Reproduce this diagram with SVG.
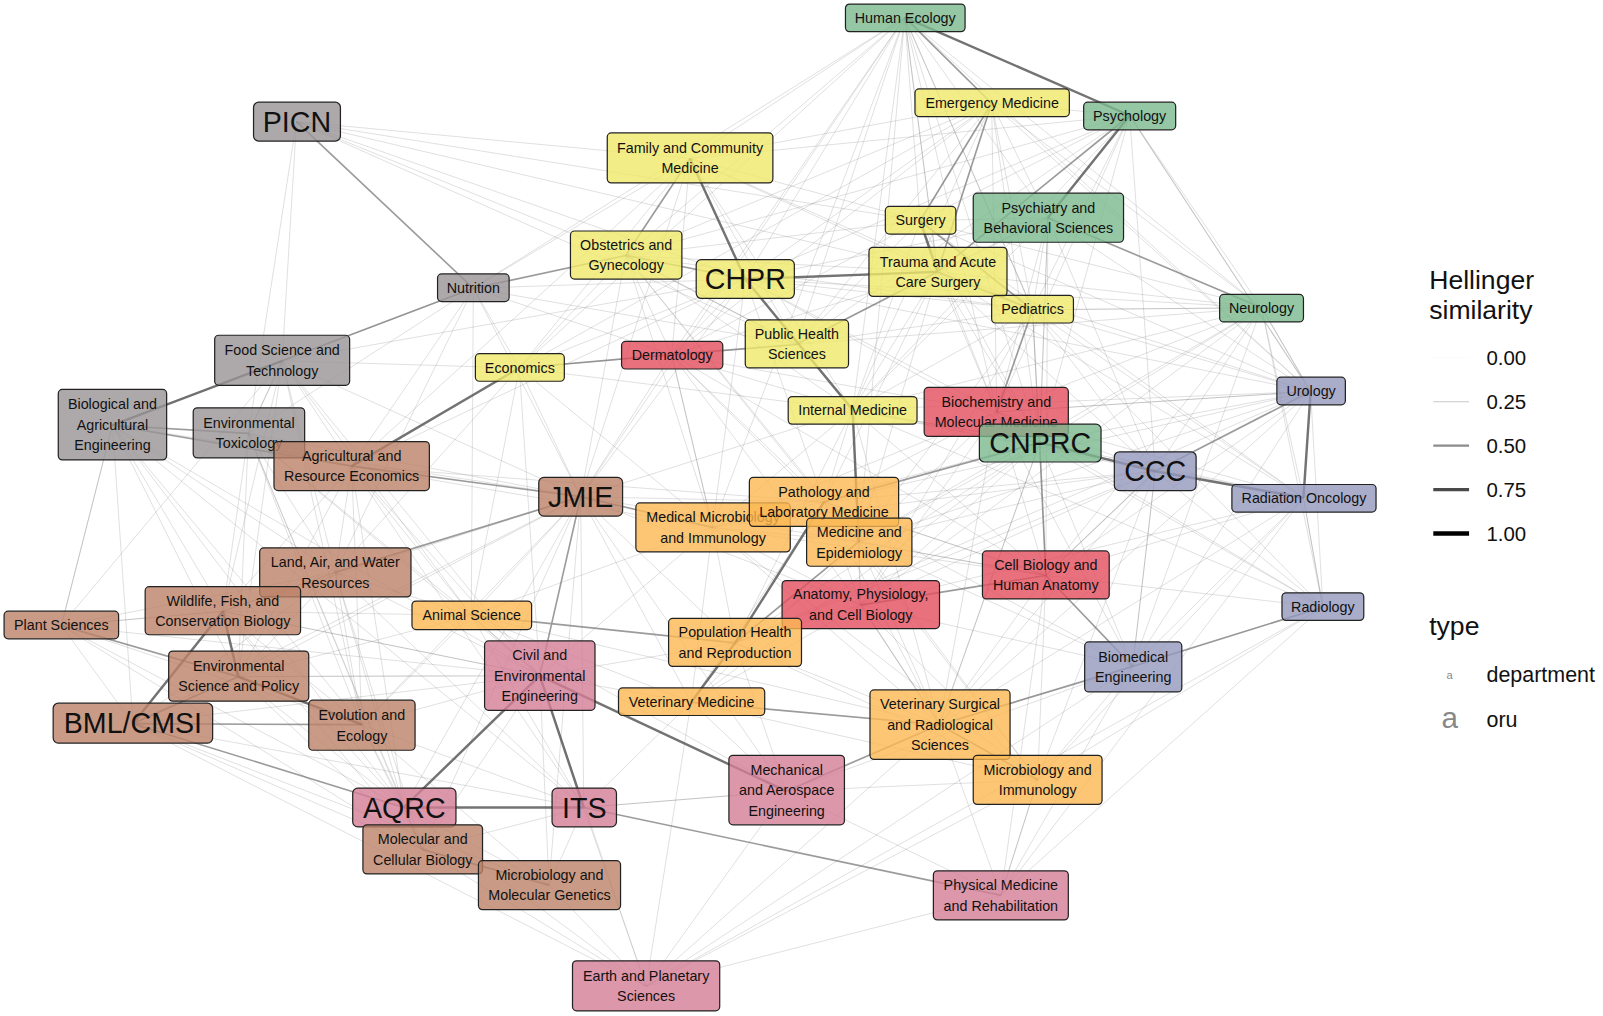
<svg xmlns="http://www.w3.org/2000/svg" width="1603" height="1016" viewBox="0 0 1603 1016">
<style>
.e0{stroke:#8f8f8f;stroke-opacity:.36;stroke-width:.75;fill:none}
.e1{stroke:#888;stroke-opacity:.5;stroke-width:1;fill:none}
.e2{stroke:#707070;stroke-opacity:.7;stroke-width:1.6;fill:none}
.e3{stroke:#505050;stroke-opacity:.8;stroke-width:2.4;fill:none}
.n rect{stroke:#222;stroke-width:1.2;fill-opacity:.8}
.n text{font-family:"Liberation Sans",Arial,Helvetica,sans-serif;font-size:14px;fill:#111;text-anchor:middle}
.n text.o{font-size:28px}
.y rect{fill:#f0e96a}
.g rect{fill:#7ab98f}
.k rect{fill:#989396}
.b rect{fill:#bb8268}
.r rect{fill:#e44d5e}
.or rect{fill:#fbb852}
.p rect{fill:#d57d95}
.l rect{fill:#9598bc}
.lg{font-family:"Liberation Sans",Arial,Helvetica,sans-serif;fill:#111}
</style>
<rect width="1603" height="1016" fill="#fff"/>
<g transform="scale(1.02232 1.02213)">
<g id="connectors">
<path class="e0" d="M885 17L612 250M885 17L675 155M885 17L729 273M885 17L779 337M885 17L834 401M885 17L657 347M885 17L508 360M885 17L900 216M885 17L1025 213M885 17L1234 301M885 17L1282 383M885 17L975 403M885 17L840 530M885 17L463 282M885 17L1017 433M885 17L568 486M885 17L697 516M290 119L675 155M290 119L900 216M290 119L917 266M290 119L779 337M290 119L276 353M290 119L612 250M290 119L729 273M290 119L243 424M970 101L729 273M970 101L612 250M970 101L675 155M970 101L779 337M970 101L834 401M970 101L1010 303M970 101L1025 213M970 101L1234 301M970 101L1282 383M970 101L657 347M970 101L975 403M970 101L1017 433M970 101L508 360M1105 113L1234 301M1105 113L1010 303M1105 113L900 216M1105 113L729 273M1105 113L675 155M1105 113L612 250M1105 113L975 403M1105 113L1017 433M1105 113L834 401M1105 113L779 337M1105 113L1130 461M1105 113L970 101M675 155L779 337M675 155L917 266M675 155L900 216M675 155L657 347M675 155L508 360M675 155L834 401M675 155L1010 303M675 155L463 282M675 155L568 486M675 155L344 456M900 216L612 250M900 216L779 337M900 216L834 401M900 216L975 403M900 216L1017 433M900 216L1234 301M900 216L1282 383M900 216L1275 487M900 216L657 347M900 216L1025 213M1025 213L1010 303M1025 213L917 266M1025 213L834 401M1025 213L975 403M1025 213L729 273M1025 213L1282 383M1025 213L1130 461M1025 213L779 337M1025 213L1023 563M612 250L657 347M612 250L834 401M612 250L917 266M612 250L1010 303M612 250L508 360M612 250L697 516M612 250L568 486M612 250L806 491M612 250L840 530M729 273L657 347M729 273L508 360M729 273L1010 303M729 273L1234 301M729 273L1282 383M729 273L975 403M729 273L806 491M729 273L568 486M729 273L463 282M729 273L344 456M729 273L697 516M729 273L276 353M729 273L1017 433M917 266L834 401M917 266L975 403M917 266L1017 433M917 266L1234 301M917 266L1282 383M917 266L1130 461M917 266L1275 487M917 266L657 347M917 266L840 530M917 266L806 491M1010 303L1282 383M1010 303L834 401M1010 303L1130 461M1010 303L1275 487M1010 303L1294 594M1010 303L779 337M1010 303L1023 563M1010 303L840 530M1010 303L842 592M1234 301L1130 461M1234 301L1275 487M1234 301L1294 594M1234 301L975 403M1234 301L1017 433M1234 301L834 401M1234 301L1023 563M1234 301L1108 652M1234 301L779 337M1234 301L840 530M1234 301L842 592M463 282L508 360M463 282L568 486M463 282L344 456M463 282L657 347M463 282L779 337M463 282L461 602M463 282L243 424M463 282L110 416M463 282L328 560M276 353L344 456M276 353L328 560M276 353L218 598M276 353L233 662M276 353L568 486M276 353L508 360M276 353L60 612M276 353L354 709M276 353L461 602M276 353L528 661M657 347L834 401M657 347L568 486M657 347L806 491M657 347L840 530M657 347L842 592M657 347L975 403M657 347L1023 563M508 360L568 486M508 360L328 560M508 360L779 337M508 360L834 401M508 360L697 516M508 360L461 602M508 360L528 661M110 416L328 560M110 416L218 598M110 416L233 662M110 416L130 708M110 416L354 709M110 416L568 486M110 416L528 661M110 416L395 790M110 416L571 790M243 424L344 456M243 424L328 560M243 424L218 598M243 424L233 662M243 424L568 486M243 424L354 709M243 424L528 661M243 424L395 790M243 424L413 831M243 424L461 602M834 401L806 491M834 401L1130 461M834 401L697 516M834 401L842 592M834 401L1023 563M834 401L719 629M834 401L919 709M834 401L1282 383M834 401L1275 487M834 401L1294 594M834 401L568 486M975 403L1017 433M975 403L1130 461M975 403L1023 563M975 403L842 592M975 403L840 530M975 403L806 491M975 403L697 516M975 403L1275 487M975 403L1108 652M975 403L1294 594M975 403L919 709M1282 383L1294 594M1282 383L1108 652M1282 383L1017 433M1282 383L1023 563M1282 383L806 491M1282 383L840 530M1282 383L719 629M1282 383L919 709M1017 433L842 592M1017 433L840 530M1017 433L697 516M1017 433L719 629M1017 433L1108 652M1017 433L1275 487M1017 433L1294 594M1017 433L676 687M1130 461L1294 594M1130 461L842 592M1130 461L840 530M1130 461L806 491M1130 461L697 516M1130 461L719 629M1130 461L919 709M1130 461L1015 763M1275 487L1108 652M1275 487L1023 563M1275 487L919 709M1275 487L1015 763M1275 487L979 876M1275 487L842 592M344 456L328 560M344 456L218 598M344 456L233 662M344 456L354 709M344 456L528 661M344 456L461 602M344 456L806 491M344 456L697 516M344 456L395 790M344 456L571 790M568 486L571 790M568 486L461 602M568 486L806 491M568 486L840 530M568 486L842 592M568 486L719 629M568 486L676 687M568 486L395 790M568 486L413 831M568 486L537 866M568 486L354 709M568 486L218 598M568 486L233 662M568 486L130 708M568 486L769 774M806 491L697 516M806 491L840 530M806 491L842 592M806 491L676 687M806 491L919 709M806 491L1015 763M806 491L1108 652M697 516L840 530M697 516L842 592M697 516L719 629M697 516L676 687M697 516L919 709M697 516L1023 563M697 516L1015 763M697 516L461 602M697 516L528 661M840 530L842 592M840 530L676 687M840 530L919 709M840 530L1015 763M840 530L1108 652M328 560L233 662M328 560L354 709M328 560L528 661M328 560L461 602M328 560L395 790M328 560L571 790M328 560L60 612M328 560L130 708M328 560L413 831M1023 563L919 709M1023 563L1015 763M1023 563L979 876M1023 563L1294 594M218 598L354 709M218 598L395 790M218 598L461 602M218 598L413 831M60 612L130 708M60 612L354 709M60 612L528 661M60 612L395 790M60 612L413 831M461 602L676 687M461 602L919 709M461 602L233 662M461 602L354 709M461 602L571 790M461 602L769 774M842 592L719 629M842 592L676 687M842 592L1108 652M842 592L1015 763M1294 594L919 709M1294 594L1015 763M1294 594L979 876M1294 594L632 965M719 629L919 709M719 629L528 661M719 629L1015 763M719 629L769 774M528 661L537 866M528 661L413 831M528 661L354 709M528 661L130 708M528 661L632 965M528 661L676 687M1108 652L1015 763M1108 652L979 876M1108 652L769 774M1108 652L632 965M233 662L395 790M233 662L413 831M676 687L769 774M676 687L571 790M676 687L632 965M676 687L1015 763M919 709L979 876M919 709L632 965M130 708L413 831M130 708L537 866M130 708L571 790M130 708L632 965M354 709L395 790M354 709L413 831M354 709L537 866M354 709L571 790M1015 763L769 774M1015 763L632 965M769 774L979 876M769 774L632 965M395 790L537 866M395 790L632 965M571 790L537 866M571 790L632 965M571 790L413 831M413 831L632 965M537 866L632 965M979 876L632 965"/>
<path class="e1" d="M1105 113L1282 383M1234 301L1010 303M1234 301L1282 383M885 17L917 266M885 17L1010 303M612 250L779 337M60 612L218 598M328 560L218 598M395 790L413 831M571 790L769 774M461 602L528 661M842 592L919 709M1130 461L1108 652M1130 461L1023 563M1017 433L919 709M1015 763L979 876M233 662L528 661M218 598L528 661M1275 487L1294 594M840 530L1023 563M806 491L1023 563M657 347L697 516M276 353L243 424M110 416L60 612M1025 213L1017 433M1010 303L1017 433M975 403L1282 383M834 401L1017 433"/>
<path class="e2" d="M290 119L463 282M885 17L970 101M970 101L900 216M970 101L917 266M1105 113L917 266M917 266L1010 303M900 216L1010 303M729 273L612 250M463 282L612 250M463 282L276 353M110 416L243 424M110 416L344 456M657 347L779 337M508 360L657 347M917 266L779 337M344 456L568 486M568 486L328 560M568 486L528 661M568 486L697 516M233 662L130 708M130 708L354 709M60 612L233 662M130 708L395 790M413 831L537 866M571 790L979 876M719 629L840 530M676 687L919 709M461 602L719 629M919 709L1015 763M919 709L1108 652M919 709L769 774M1108 652L1294 594M1108 652L1023 563M842 592L1023 563M1130 461L1282 383M1025 213L1234 301M806 491L1017 433M1010 303L975 403M1017 433L1023 563M675 155L612 250"/>
<path class="e3" d="M675 155L729 273M729 273L834 401M729 273L917 266M900 216L917 266M885 17L1105 113M1105 113L1025 213M276 353L110 416M508 360L344 456M528 661L571 790M395 790L571 790M395 790L528 661M528 661L769 774M218 598L233 662M218 598L130 708M233 662L354 709M676 687L719 629M719 629L806 491M834 401L840 530M1130 461L1275 487M1282 383L1275 487M1130 461L1017 433"/>
</g>
<g id="nodes">
<g id="n-human-ecology" class="n g"><rect x="827" y="4" width="117" height="27" rx="4"/><text x="885.5" y="22.5">Human Ecology</text></g>
<g id="n-emergency-medicine" class="n y"><rect x="895" y="87" width="151" height="27" rx="4"/><text x="970.5" y="105.5">Emergency Medicine</text></g>
<g id="n-psychology" class="n g"><rect x="1060" y="100" width="90" height="27" rx="4"/><text x="1105" y="118.5">Psychology</text></g>
<g id="n-picn" class="n k"><rect x="248" y="100" width="85" height="38" rx="5"/><text class="o" x="290.5" y="129">PICN</text></g>
<g id="n-family-community-medicine" class="n y"><rect x="594" y="130" width="162" height="49" rx="4"/><text x="675" y="149.5">Family and Community<tspan x="675" dy="20">Medicine</tspan></text></g>
<g id="n-surgery" class="n y"><rect x="866" y="202" width="69" height="27" rx="4"/><text x="900.5" y="220.5">Surgery</text></g>
<g id="n-psychiatry" class="n g"><rect x="952" y="189" width="147" height="48" rx="4"/><text x="1025.5" y="208">Psychiatry and<tspan x="1025.5" dy="20">Behavioral Sciences</tspan></text></g>
<g id="n-obstetrics" class="n y"><rect x="558" y="226" width="109" height="47" rx="4"/><text x="612.5" y="244.5">Obstetrics and<tspan x="612.5" dy="20">Gynecology</tspan></text></g>
<g id="n-chpr" class="n y"><rect x="681" y="254" width="96" height="38" rx="5"/><text class="o" x="729" y="283">CHPR</text></g>
<g id="n-trauma" class="n y"><rect x="850" y="242" width="135" height="48" rx="4"/><text x="917.5" y="261">Trauma and Acute<tspan x="917.5" dy="20">Care Surgery</tspan></text></g>
<g id="n-pediatrics" class="n y"><rect x="970" y="289" width="80" height="27" rx="4"/><text x="1010" y="307.5">Pediatrics</text></g>
<g id="n-neurology" class="n g"><rect x="1193" y="288" width="82" height="27" rx="4"/><text x="1234" y="306.5">Neurology</text></g>
<g id="n-nutrition" class="n k"><rect x="428" y="268" width="70" height="27" rx="4"/><text x="463" y="286.5">Nutrition</text></g>
<g id="n-food-science" class="n k"><rect x="210" y="328" width="132" height="49" rx="4"/><text x="276" y="347.5">Food Science and<tspan x="276" dy="20">Technology</tspan></text></g>
<g id="n-public-health" class="n y"><rect x="729" y="313" width="101" height="47" rx="4"/><text x="779.5" y="331.5">Public Health<tspan x="779.5" dy="20">Sciences</tspan></text></g>
<g id="n-dermatology" class="n r"><rect x="608" y="334" width="99" height="27" rx="4"/><text x="657.5" y="352.5">Dermatology</text></g>
<g id="n-economics" class="n y"><rect x="465" y="346" width="87" height="27" rx="4"/><text x="508.5" y="364.5">Economics</text></g>
<g id="n-bio-ag-eng" class="n k"><rect x="57" y="381" width="106" height="69" rx="4"/><text x="110" y="400.5">Biological and<tspan x="110" dy="20">Agricultural</tspan><tspan x="110" dy="20">Engineering</tspan></text></g>
<g id="n-env-tox" class="n k"><rect x="189" y="399" width="109" height="49" rx="4"/><text x="243.5" y="418.5">Environmental<tspan x="243.5" dy="20">Toxicology</tspan></text></g>
<g id="n-internal-medicine" class="n y"><rect x="771" y="388" width="126" height="27" rx="4"/><text x="834" y="406.5">Internal Medicine</text></g>
<g id="n-biochemistry" class="n r"><rect x="904" y="379" width="141" height="48" rx="4"/><text x="974.5" y="398">Biochemistry and<tspan x="974.5" dy="20">Molecular Medicine</tspan></text></g>
<g id="n-urology" class="n l"><rect x="1249" y="369" width="67" height="27" rx="4"/><text x="1282.5" y="387.5">Urology</text></g>
<g id="n-cnprc" class="n g"><rect x="958" y="415" width="119" height="37" rx="5"/><text class="o" x="1017.5" y="443.5">CNPRC</text></g>
<g id="n-ccc" class="n l"><rect x="1090" y="442" width="80" height="38" rx="5"/><text class="o" x="1130" y="471">CCC</text></g>
<g id="n-radiation-oncology" class="n l"><rect x="1205" y="474" width="141" height="27" rx="4"/><text x="1275.5" y="492.5">Radiation Oncology</text></g>
<g id="n-ag-res-econ" class="n b"><rect x="268" y="432" width="152" height="48" rx="4"/><text x="344" y="451">Agricultural and<tspan x="344" dy="20">Resource Economics</tspan></text></g>
<g id="n-jmie" class="n b"><rect x="527" y="467" width="82" height="38" rx="5"/><text class="o" x="568" y="496">JMIE</text></g>
<g id="n-med-micro-immun" class="n or"><rect x="622" y="492" width="151" height="48" rx="4"/><text x="697.5" y="511">Medical Microbiology<tspan x="697.5" dy="20">and Immunology</tspan></text></g>
<g id="n-pathology" class="n or"><rect x="733" y="467" width="146" height="48" rx="4"/><text x="806" y="486">Pathology and<tspan x="806" dy="20">Laboratory Medicine</tspan></text></g>
<g id="n-medicine-epi" class="n or"><rect x="789" y="507" width="103" height="47" rx="4"/><text x="840.5" y="525.5">Medicine and<tspan x="840.5" dy="20">Epidemiology</tspan></text></g>
<g id="n-land-air-water" class="n b"><rect x="254" y="536" width="148" height="48" rx="4"/><text x="328" y="555">Land, Air, and Water<tspan x="328" dy="20">Resources</tspan></text></g>
<g id="n-cell-bio-anatomy" class="n r"><rect x="961" y="539" width="124" height="47" rx="4"/><text x="1023" y="557.5">Cell Biology and<tspan x="1023" dy="20">Human Anatomy</tspan></text></g>
<g id="n-wildlife" class="n b"><rect x="142" y="574" width="152" height="47" rx="4"/><text x="218" y="592.5">Wildlife, Fish, and<tspan x="218" dy="20">Conservation Biology</tspan></text></g>
<g id="n-plant-sciences" class="n b"><rect x="4" y="598" width="112" height="27" rx="4"/><text x="60" y="616.5">Plant Sciences</text></g>
<g id="n-animal-science" class="n or"><rect x="403" y="588" width="117" height="28" rx="4"/><text x="461.5" y="607">Animal Science</text></g>
<g id="n-anatomy-physiology" class="n r"><rect x="765" y="568" width="154" height="47" rx="4"/><text x="842" y="586.5">Anatomy, Physiology,<tspan x="842" dy="20">and Cell Biology</tspan></text></g>
<g id="n-radiology" class="n l"><rect x="1254" y="580" width="80" height="27" rx="4"/><text x="1294" y="598.5">Radiology</text></g>
<g id="n-population-health" class="n or"><rect x="654" y="605" width="130" height="47" rx="4"/><text x="719" y="623.5">Population Health<tspan x="719" dy="20">and Reproduction</tspan></text></g>
<g id="n-civil-env-eng" class="n p"><rect x="474" y="627" width="108" height="68" rx="4"/><text x="528" y="646">Civil and<tspan x="528" dy="20">Environmental</tspan><tspan x="528" dy="20">Engineering</tspan></text></g>
<g id="n-biomedical-eng" class="n l"><rect x="1061" y="628" width="95" height="49" rx="4"/><text x="1108.5" y="647.5">Biomedical<tspan x="1108.5" dy="20">Engineering</tspan></text></g>
<g id="n-env-sci-policy" class="n b"><rect x="165" y="637" width="137" height="49" rx="4"/><text x="233.5" y="656.5">Environmental<tspan x="233.5" dy="20">Science and Policy</tspan></text></g>
<g id="n-veterinary-medicine" class="n or"><rect x="605" y="673" width="143" height="27" rx="4"/><text x="676.5" y="691.5">Veterinary Medicine</text></g>
<g id="n-vet-surgical" class="n or"><rect x="851" y="675" width="137" height="68" rx="4"/><text x="919.5" y="694">Veterinary Surgical<tspan x="919.5" dy="20">and Radiological</tspan><tspan x="919.5" dy="20">Sciences</tspan></text></g>
<g id="n-bml-cmsi" class="n b"><rect x="52" y="688" width="156" height="39" rx="5"/><text class="o" x="130" y="717.5">BML/CMSI</text></g>
<g id="n-evolution-ecology" class="n b"><rect x="302" y="685" width="104" height="49" rx="4"/><text x="354" y="704.5">Evolution and<tspan x="354" dy="20">Ecology</tspan></text></g>
<g id="n-microbiology-immunology" class="n or"><rect x="952" y="739" width="126" height="48" rx="4"/><text x="1015" y="758">Microbiology and<tspan x="1015" dy="20">Immunology</tspan></text></g>
<g id="n-mech-aero-eng" class="n p"><rect x="713" y="739" width="113" height="68" rx="4"/><text x="769.5" y="758">Mechanical<tspan x="769.5" dy="20">and Aerospace</tspan><tspan x="769.5" dy="20">Engineering</tspan></text></g>
<g id="n-aqrc" class="n p"><rect x="345" y="771" width="101" height="38" rx="5"/><text class="o" x="395.5" y="800">AQRC</text></g>
<g id="n-its" class="n p"><rect x="540" y="771" width="63" height="38" rx="5"/><text class="o" x="571.5" y="800">ITS</text></g>
<g id="n-mol-cell-bio" class="n b"><rect x="355" y="807" width="117" height="48" rx="4"/><text x="413.5" y="826">Molecular and<tspan x="413.5" dy="20">Cellular Biology</tspan></text></g>
<g id="n-micro-mol-gen" class="n b"><rect x="468" y="842" width="139" height="48" rx="4"/><text x="537.5" y="861">Microbiology and<tspan x="537.5" dy="20">Molecular Genetics</tspan></text></g>
<g id="n-physical-medicine" class="n p"><rect x="913" y="852" width="132" height="48" rx="4"/><text x="979" y="871">Physical Medicine<tspan x="979" dy="20">and Rehabilitation</tspan></text></g>
<g id="n-earth-planetary" class="n p"><rect x="560" y="940" width="144" height="49" rx="4"/><text x="632" y="959.5">Earth and Planetary<tspan x="632" dy="20">Sciences</tspan></text></g>
</g>
<g id="legend">
<text class="lg" x="1398" y="283" font-size="26">Hellinger</text>
<text class="lg" x="1398" y="312" font-size="26">similarity</text>
<line x1="1402" y1="350" x2="1437" y2="350" stroke="#eee" stroke-width="0.3"/>
<line x1="1402" y1="393" x2="1437" y2="393" stroke="#c8c8c8" stroke-width="1"/>
<line x1="1402" y1="436" x2="1437" y2="436" stroke="#8c8c8c" stroke-width="2.2"/>
<line x1="1402" y1="479" x2="1437" y2="479" stroke="#4a4a4a" stroke-width="3.3"/>
<line x1="1402" y1="522" x2="1437" y2="522" stroke="#000" stroke-width="4.4"/>
<text class="lg" x="1454" y="357" font-size="20">0.00</text>
<text class="lg" x="1454" y="400" font-size="20">0.25</text>
<text class="lg" x="1454" y="443" font-size="20">0.50</text>
<text class="lg" x="1454" y="486" font-size="20">0.75</text>
<text class="lg" x="1454" y="529" font-size="20">1.00</text>
<text class="lg" x="1398" y="621" font-size="26">type</text>
<text x="1418" y="664" font-family="Liberation Sans, Arial, sans-serif" font-size="11" fill="#888" text-anchor="middle">a</text>
<text class="lg" x="1454" y="667" font-size="21">department</text>
<text x="1418" y="712" font-family="Liberation Sans, Arial, sans-serif" font-size="29" fill="#888" text-anchor="middle">a</text>
<text class="lg" x="1454" y="711" font-size="21">oru</text>
</g>
</g>
</svg>
